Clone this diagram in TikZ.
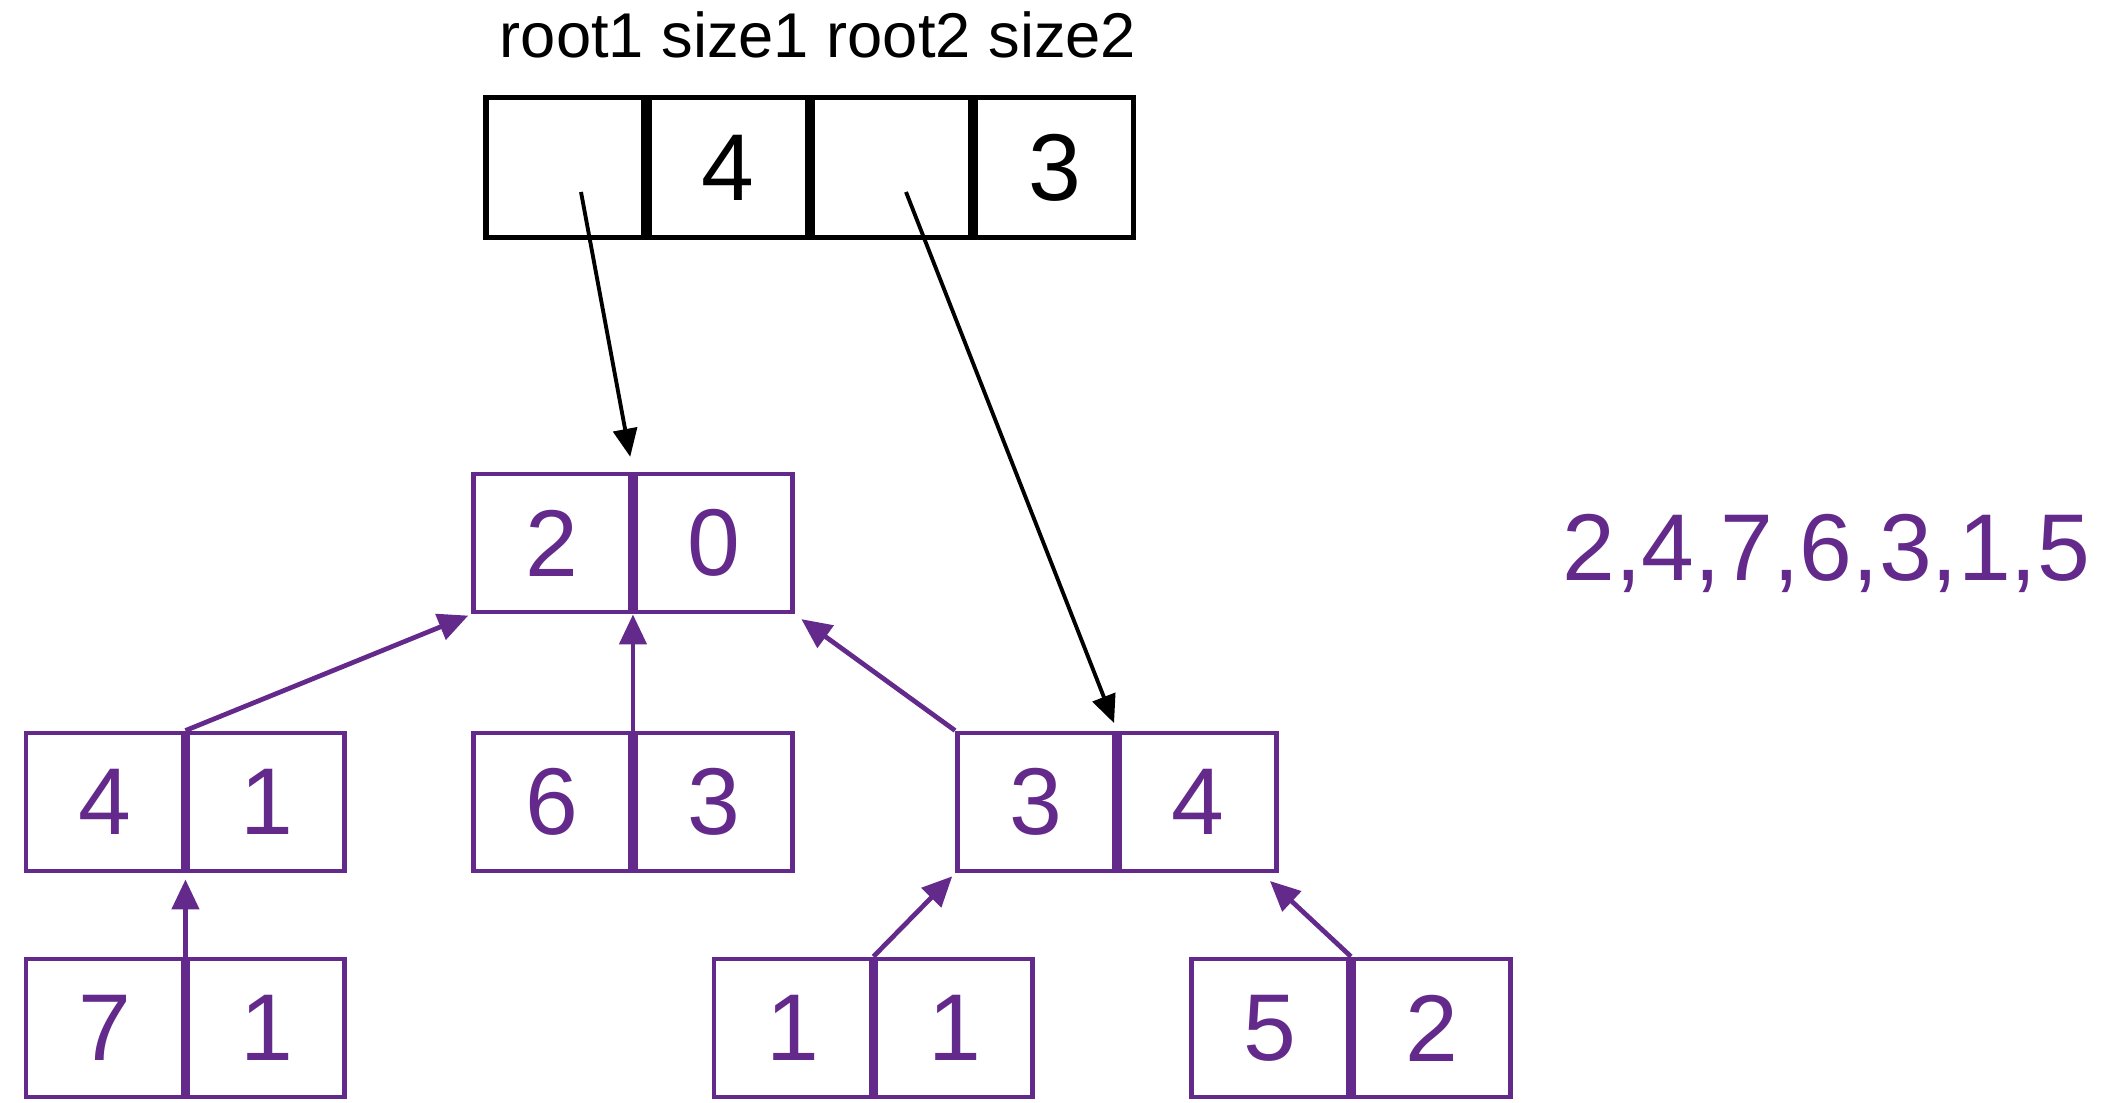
\documentclass[tikz,border=0pt]{standalone}
\usepackage{fontspec}
\setmainfont{Liberation Sans}
\usepackage{xcolor}
\usetikzlibrary{positioning}
\usetikzlibrary{arrows.meta}

\definecolor{setpurple}{RGB}{99,41,139}

\tikzset{
  slot/.style={draw, line width=1.5pt, minimum width=1.58cm, minimum height=1.40cm,
    inner sep=0pt, font=\fontsize{27}{30}\selectfont},
  cell/.style={draw=setpurple, text=setpurple, line width=1.4pt, minimum width=1.57cm,
    minimum height=1.38cm, inner sep=0pt, font=\fontsize{27}{30}\selectfont},
  parent/.style={draw=setpurple, line width=1.35pt, -{Triangle[length=0.3cm,width=0.27cm]}},
  ptr/.style={draw, line width=1.1pt, -{Triangle[length=0.28cm,width=0.24cm]}}
}

\begin{document}
\begin{tikzpicture}
            \useasboundingbox (0,0) rectangle (21.02,11.02);

            % Header array
            \node[anchor=base, font=\fontsize{18}{20}\selectfont] (fields) at (8.18,10.44) {root1 size1 root2 size2};
            \node[slot] (root1) at (5.65,9.345) {};
            \node[slot, right=0pt of root1] (size1) {4};
            \node[slot, right=0pt of size1] (root2) {};
            \node[slot, right=0pt of root2] (size2) {3};
            \coordinate (p1) at (5.81,9.10);
            \coordinate (p2) at (9.06,9.10);

            % Tree cells (value | count)
            \node[cell] (k2) at (5.52,5.59) {2};
            \node[cell, right=0pt of k2] (r2) {0};
            \node[cell] (k4) at (1.045,3.00) {4};
            \node[cell, right=0pt of k4] (r4) {1};
            \node[cell] (k6) at (5.52,3.00) {6};
            \node[cell, right=0pt of k6] (r6) {3};
            \node[cell] (k3) at (10.36,3.00) {3};
            \node[cell, right=0pt of k3] (r3) {4};
            \node[cell] (k7) at (1.045,0.74) {7};
            \node[cell, right=0pt of k7] (r7) {1};
            \node[cell] (k1) at (7.925,0.74) {1};
            \node[cell, right=0pt of k1] (r1) {1};
            \node[cell] (k5) at (12.70,0.74) {5};
            \node[cell, right=0pt of k5] (r5) {2};
            \coordinate[xshift=-0.17cm] (t3) at (r3.south east);

            % Sequence
            \node[anchor=base west, text=setpurple, font=\fontsize{27}{30}\selectfont] (order) at (15.50,5.22) {2,4,7,6,3,1,5};

            % Pointers from the header
            \draw[ptr, shorten >=0.15cm] (p1) -- (k2.north east);
            \draw[ptr, shorten >=0.08cm] (p2) -- (k3.north east);

            % Parent links
            \draw[parent, shorten >=0.03cm] (k4.north east) -- (k2.south west);
            \draw[parent] (k6.north east) -- (k2.south east);
            \draw[parent, shorten >=0.08cm] (k3.north west) -- (r2.south east);
            \draw[parent, shorten >=0.06cm] (k7.north east) -- (k4.south east);
            \draw[parent, shorten >=0.04cm] (k1.north east) -- (k3.south west);
            \draw[parent, shorten >=0.11cm] (k5.north east) -- (t3);
\end{tikzpicture}
\end{document}
